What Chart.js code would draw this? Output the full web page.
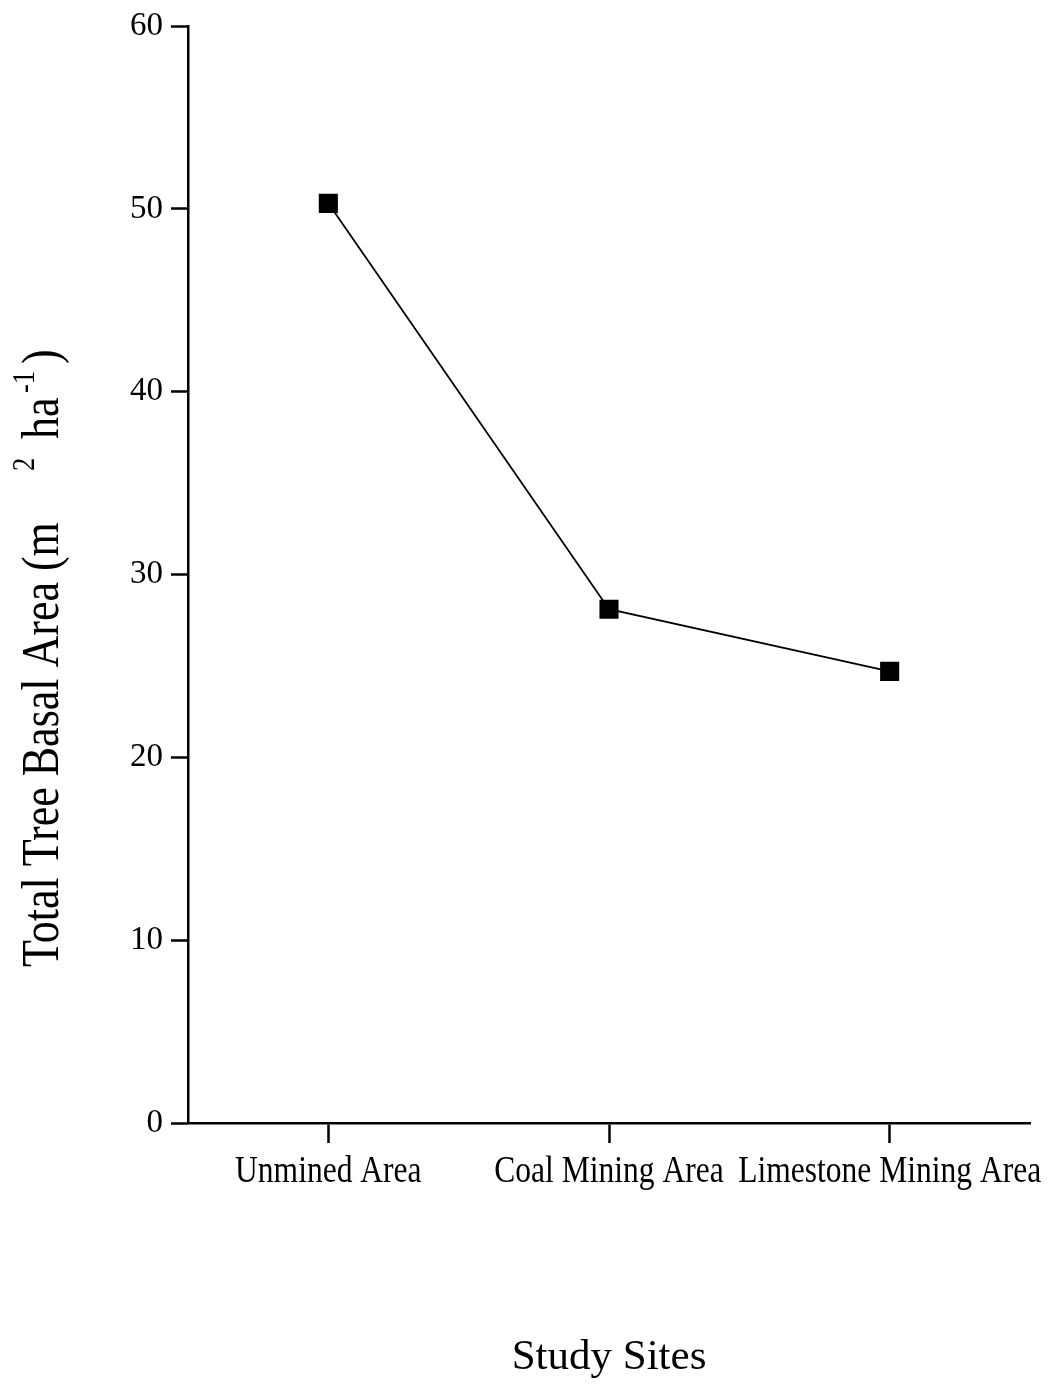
<!DOCTYPE html>
<html>
<head>
<meta charset="utf-8">
<title>Total Tree Basal Area by Study Site</title>
<style>
  html, body { margin: 0; padding: 0; background: #fff; }
  #wrap { width: 1053px; height: 1391px; position: relative; }
  canvas { display: block; }
</style>
<script src="https://cdn.jsdelivr.net/npm/chart.js@4/dist/chart.umd.min.js"></script>
</head>
<body>
<div id="wrap"><canvas id="chart" width="1053" height="1391"></canvas></div>
<script>
// Study sites along the x axis
const sites = ['Unmined Area', 'Coal Mining Area', 'Limestone Mining Area'];
// Total tree basal area (m² ha⁻¹) per site
const basalArea = [50.3, 28.1, 24.7];
// Y axis tick values
const yTicks = [0, 10, 20, 30, 40, 50, 60];
// Axis titles
const xTitle = 'Study Sites';
const yTitleParts = {
  main: 'Total Tree Basal Area (m',
  sup1: '2',
  unit: 'ha',
  sup2: '-1',
  close: ')'
};

const SERIF = '"Liberation Serif", "Times New Roman", Times, serif';
const CONDENSE = 0.83;   // horizontal squeeze for the narrow serif lettering

// Writes text squeezed horizontally (in the current frame) about its anchor
function condensedText(ctx, text, x, y, align) {
  ctx.save();
  ctx.translate(x, y);
  ctx.scale(CONDENSE, 1);
  ctx.textAlign = align;
  ctx.fillText(text, 0, 0);
  ctx.restore();
}

// Category labels and axis titles
const axisText = {
  id: 'axisText',
  afterDraw(chart) {
    const ctx = chart.ctx;
    const area = chart.chartArea;
    const xScale = chart.scales.x;

    // category labels, centred under each tick of the x scale
    ctx.save();
    ctx.fillStyle = '#000';
    ctx.font = '38px ' + SERIF;
    ctx.textBaseline = 'alphabetic';
    xScale.ticks.forEach((t, i) => {
      const label = xScale.getLabelForValue(t.value);
      condensedText(ctx, label, xScale.getPixelForTick(i), 1182, 'center');
    });
    ctx.restore();

    // x title, centred under the plot
    ctx.save();
    ctx.fillStyle = '#000';
    ctx.font = '43px ' + SERIF;
    ctx.textAlign = 'center';
    ctx.textBaseline = 'alphabetic';
    ctx.fillText(xTitle, (area.left + area.right) / 2, 1369);
    ctx.restore();

    // y title, rotated, reading upward
    ctx.save();
    ctx.fillStyle = '#000';
    ctx.translate(0, 967);
    ctx.rotate(-Math.PI / 2);
    ctx.textBaseline = 'alphabetic';
    // rotated frame: x runs up the page, y runs to the right
    ctx.font = '53px ' + SERIF;
    condensedText(ctx, yTitleParts.main, 0, 58, 'left');
    ctx.font = '32px ' + SERIF;
    condensedText(ctx, yTitleParts.sup1, 496, 34, 'left');
    ctx.font = '53px ' + SERIF;
    condensedText(ctx, yTitleParts.unit, 528, 58, 'left');
    ctx.font = '32px ' + SERIF;
    condensedText(ctx, yTitleParts.sup2, 574, 34, 'left');
    ctx.font = '53px ' + SERIF;
    condensedText(ctx, yTitleParts.close, 603, 58, 'left');
    ctx.restore();
  }
};

new Chart(document.getElementById('chart'), {
  type: 'line',
  data: {
    labels: sites,
    datasets: [{
      data: basalArea,
      borderColor: '#000',
      borderWidth: 1.8,
      backgroundColor: '#000',
      pointStyle: 'rect',
      pointRadius: 13.5,
      pointHoverRadius: 13.5,
      pointBorderWidth: 0,
      tension: 0,
      fill: false
    }]
  },
  options: {
    responsive: false,
    devicePixelRatio: 1,
    animation: false,
    events: [],
    layout: { padding: { left: 0, right: 23, top: 26, bottom: 0 } },
    plugins: {
      legend: { display: false },
      tooltip: { enabled: false },
      title: { display: false }
    },
    scales: {
      x: {
        type: 'category',
        offset: true,
        grid: {
          offset: false,
          drawOnChartArea: false,
          drawTicks: true,
          tickLength: 20,
          tickWidth: 2.5,
          color: '#000'
        },
        border: { display: true, color: '#000', width: 2.5 },
        ticks: { display: false, autoSkip: false },
        afterFit(scale) {
          scale.height = 268;
          scale.paddingLeft = 0;
          scale.paddingRight = 0;
        }
      },
      y: {
        type: 'linear',
        min: 0,
        max: 60,
        afterBuildTicks(scale) {
          scale.ticks = yTicks.map(v => ({ value: v }));
        },
        grid: {
          drawOnChartArea: false,
          drawTicks: true,
          tickLength: 17,
          tickWidth: 2.5,
          color: '#000'
        },
        border: { display: true, color: '#000', width: 2.5 },
        ticks: {
          color: '#000',
          font: { family: SERIF, size: 33 },
          padding: 8
        },
        afterFit(scale) {
          scale.width = 188;
          scale.paddingTop = 0;
          scale.paddingBottom = 0;
        }
      }
    }
  },
  plugins: [axisText]
});
</script>
</body>
</html>
